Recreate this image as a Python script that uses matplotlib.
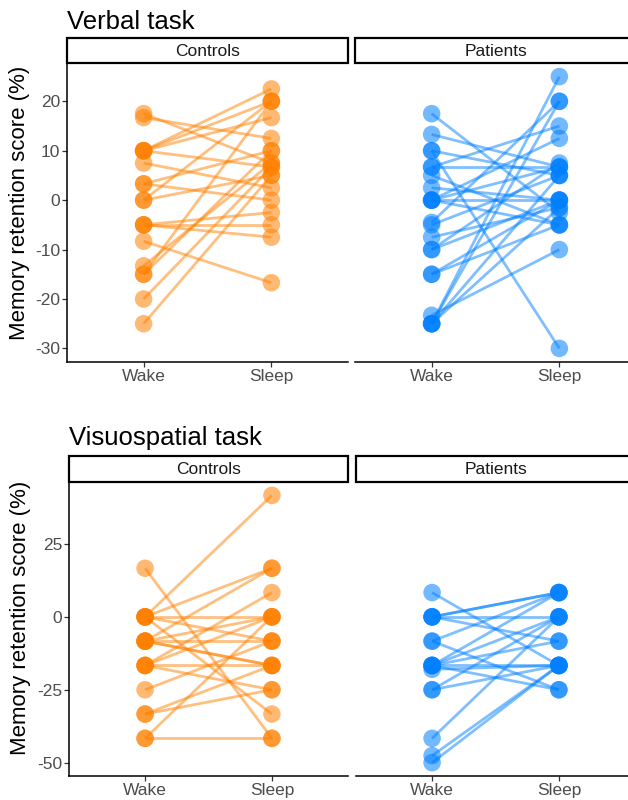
import matplotlib
matplotlib.use("Agg")
import matplotlib.pyplot as plt
from matplotlib.patches import Rectangle

plt.rcParams['font.family'] = ['Liberation Sans', 'DejaVu Sans']
plt.rcParams['axes.unicode_minus'] = False

conditions = ["Wake", "Sleep"]
groups = ["Controls", "Patients"]
colors = {"Controls": "#FF8000", "Patients": "#0080FF"}

# verbal task, one entry per subject (wake score, sleep score)
verbal_ctrl_wake = [17.5, 16.7, 10, 10, 10, 10, 7.5, 3.3, 3.3, 0, 0, -5, -5, -5, -8.3, -13.3, -15, -15, -20, -25]
verbal_ctrl_sleep = [7.5, 12.5, 22.5, 20, 16.7, 6.7, 2.5, 10, 0, 20, 5, -2.5, -5, -7.5, -16.7, 7.5, 20, 10, 6.7, 5]
verbal_pat_wake = [17.5, 13.3, 10, 10, 6.7, 6.7, 5, 2.5, 0, 0, 0, 0, -4.5, -5, -7.5, -10, -10, -15, -15, -23.3, -25, -25, -25, -25]
verbal_pat_sleep = [-2.5, 6.7, 5, -30, 15, 6.7, -5, 0, 12.5, 0, -5, 6.7, 20, 5, -1.5, 7.5, 0, 0, -5, -10, 25, 20, -1.5, 5]

# visuospatial task
visuo_ctrl_wake = [16.67, 0, 0, 0, 0, 0, -8.33, -8.33, -8.33, -8.33, -8.33, -16.67, -16.67, -16.67, -16.67, -25, -33.33, -33.33, -41.67, -41.67]
visuo_ctrl_sleep = [-41.67, 41.67, 16.67, 0, -8.33, -33.33, 16.67, 0, -8.33, -16.67, -16.67, 8.33, -16.67, -25, 0, -8.33, -16.67, -25, -41.67, 0]
visuo_pat_wake = [8.33, 0, 0, 0, 0, -8.33, -8.33, -16.67, -16.67, -16.67, -16.67, -16.67, -18, -25, -25, -41.67, -47.6, -50]
visuo_pat_sleep = [-16.67, 8.33, 8.33, 0, -8.33, 8.33, -25, 8.33, 0, -8.33, -16.67, -25, -16.67, 0, -16.67, 0, -16.67, -16.67]

verbal_ticks = [-30, -20, -10, 0, 10, 20]
visuo_ticks = [-50, -25, 0, 25]

W, H = 628, 800
fig = plt.figure(figsize=(W / 100, H / 100), dpi=100)


def box(x0, y0, x1, y1):
    # pixel box (top-left origin) -> figure fraction
    return [x0 / W, 1 - y1 / H, (x1 - x0) / W, (y1 - y0) / H]


def strip(x0, y0, x1, y1, label):
    sax = fig.add_axes(box(x0, y0, x1, y1))
    sax.set_axis_off()
    sax.add_patch(Rectangle((0, 0), 1, 1, transform=sax.transAxes, facecolor="white",
                            edgecolor="black", lw=1.6, clip_on=False))
    sax.text(0.5, 0.47, label, ha="center", va="center", fontsize=12.5, color="#1A1A1A")


def panel(rect, wake, sleep, color, ylim, ticks, show_y):
    ax = fig.add_axes(box(*rect))
    for w, s in zip(wake, sleep):
        ax.plot([1, 2], [w, s], color=color, alpha=0.5, lw=2, solid_capstyle="butt", zorder=2)
    ax.scatter([1] * len(wake), wake, s=160, color=color, alpha=0.55, edgecolors="none", zorder=3)
    ax.scatter([2] * len(sleep), sleep, s=160, color=color, alpha=0.55, edgecolors="none", zorder=3)
    ax.set_xlim(0.4, 2.6)
    ax.set_ylim(*ylim)
    ax.set_xticks([1, 2])
    ax.set_xticklabels(conditions)
    for side in ["top", "right"]:
        ax.spines[side].set_visible(False)
    ax.spines["bottom"].set_linewidth(1.1)
    ax.spines["left"].set_linewidth(1.1)
    ax.tick_params(colors="#333333", labelcolor="#4D4D4D", labelsize=12.5, length=3.5,
                   width=0.9, pad=1.5)
    if show_y:
        ax.set_yticks(ticks)
        ax.set_yticklabels([str(t) for t in ticks])
    else:
        ax.spines["left"].set_visible(False)
        ax.set_yticks([])
    ax.set_facecolor("none")
    return ax


def limits(*series):
    vals = [v for s in series for v in s]
    lo, hi = min(vals), max(vals)
    pad = (hi - lo) * 0.05
    return lo - pad, hi + pad


# top block: verbal task
vlim = limits(verbal_ctrl_wake, verbal_ctrl_sleep, verbal_pat_wake, verbal_pat_sleep)
panel((67, 63, 348, 362), verbal_ctrl_wake, verbal_ctrl_sleep, colors["Controls"], vlim, verbal_ticks, True)
panel((355, 63, 636, 362), verbal_pat_wake, verbal_pat_sleep, colors["Patients"], vlim, verbal_ticks, False)
strip(67, 38, 348, 63, groups[0])
strip(355, 38, 636, 63, groups[1])
fig.text(67 / W, 1 - 29 / H, "Verbal task", fontsize=18.5, ha="left", va="baseline")
fig.text(20 / W, 1 - 203 / H, "Memory retention score (%)", rotation=90, fontsize=16,
         ha="center", va="center")

# bottom block: visuospatial task
slim = limits(visuo_ctrl_wake, visuo_ctrl_sleep, visuo_pat_wake, visuo_pat_sleep)
panel((69, 482, 348, 776), visuo_ctrl_wake, visuo_ctrl_sleep, colors["Controls"], slim, visuo_ticks, True)
panel((356, 482, 635, 776), visuo_pat_wake, visuo_pat_sleep, colors["Patients"], slim, visuo_ticks, False)
strip(69, 456, 348, 482, groups[0])
strip(356, 456, 635, 482, groups[1])
fig.text(69 / W, 1 - 445 / H, "Visuospatial task", fontsize=18.5, ha="left", va="baseline")
fig.text(21 / W, 1 - 618 / H, "Memory retention score (%)", rotation=90, fontsize=16,
         ha="center", va="center")

fig.savefig("out.png", dpi=100, facecolor="white")
